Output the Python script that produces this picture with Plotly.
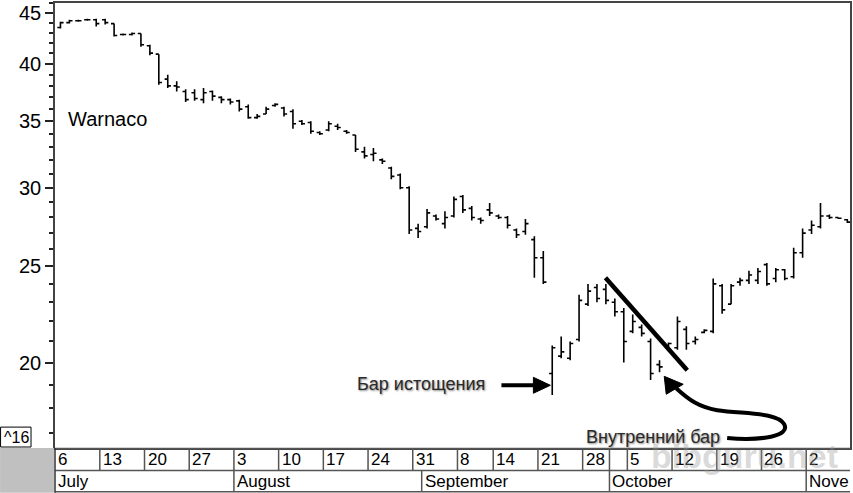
import plotly.graph_objects as go

# ---------------- data (Warnaco, daily OHLC, Jul 6 - Nov 6 1998) ----------------
open_ = [43.5, 44.0, 44.2, 44.3, 44.3, 44.3, 43.9, 42.8, 42.8, 42.9,
         41.7, 40.9, 38.6, 38.0, 37.5, 37.4, 36.8, 37.5, 37.0, 36.8,
         36.7, 36.2, 35.3, 35.6, 36.3, 36.1, 35.8, 35.0, 34.9, 34.1,
         34.3, 34.6, 34.2, 33.9, 32.6, 32.4, 32.0, 31.4, 30.9, 30.0,
         27.3, 27.4, 28.1, 27.6, 28.1, 29.4, 28.6, 27.9, 28.5, 28.1,
         28.0, 27.2, 27.1, 26.6, 25.5, 19.5, 20.3, 20.2, 21.1, 22.9,
         23.8, 23.7, 23.0, 22.5, 21.5, 21.7, 21.0, 19.9, 20.8, 20.7,
         21.6, 21.0, 21.45, 21.5, 23.9, 22.9, 24.1, 24.2, 24.2, 25.1,
         24.3, 24.8, 24.4, 25.8, 27.2, 27.4, 28.1, 28.0, 27.85]
high = [44.1, 44.3, 44.3, 44.4, 44.4, 44.4, 43.9, 42.9, 43.0, 42.9,
        41.8, 40.9, 39.0, 38.4, 37.7, 37.7, 37.8, 37.6, 37.1, 36.9,
        36.8, 36.4, 35.6, 36.2, 36.5, 36.2, 36.0, 35.1, 35.0, 34.2,
        35.0, 34.8, 34.3, 33.9, 33.0, 32.9, 32.1, 31.5, 31.0, 30.1,
        27.6, 28.55, 28.2, 28.4, 29.4, 29.5, 28.75, 28.0, 28.95, 28.2,
        28.1, 27.3, 27.9, 26.8, 25.9, 20.8, 21.25, 21.0, 23.4, 24.0,
        24.0, 24.0, 23.2, 22.7, 22.35, 21.85, 21.15, 20.1, 20.95, 22.25,
        21.75, 21.25, 21.6, 24.3, 24.0, 24.0, 24.35, 24.75, 24.9, 25.2,
        24.9, 24.85, 26.1, 27.3, 27.8, 28.95, 28.2, 28.0, 27.9]
low = [43.4, 43.9, 44.1, 44.2, 43.6, 43.8, 42.6, 42.7, 42.7, 41.6,
       40.8, 38.1, 37.8, 37.5, 36.6, 36.7, 36.5, 36.7, 36.5, 36.4,
       35.8, 35.2, 35.2, 35.6, 36.2, 35.4, 34.4, 34.7, 34.0, 33.9,
       34.2, 34.3, 34.0, 32.6, 32.1, 31.9, 31.7, 30.6, 29.9, 26.95,
       26.7, 27.3, 27.8, 27.3, 28.0, 28.3, 27.8, 27.6, 28.1, 27.9,
       27.3, 26.7, 26.9, 24.35, 24.0, 18.55, 20.2, 20.1, 21.0, 22.8,
       23.0, 22.9, 22.25, 20.0, 21.4, 21.25, 19.2, 19.55, 20.7, 20.6,
       20.6, 20.85, 21.4, 21.4, 22.4, 22.9, 23.9, 24.0, 24.0, 23.9,
       24.1, 24.2, 24.3, 25.5, 26.95, 27.3, 27.9, 27.9, 27.65]
close = [44.0, 44.2, 44.2, 44.3, 43.9, 44.0, 42.7, 42.8, 42.9, 41.8,
         41.0, 38.3, 38.0, 37.9, 36.8, 36.9, 37.4, 37.1, 36.8, 36.6,
         36.0, 35.3, 35.4, 36.0, 36.4, 35.6, 34.8, 34.8, 34.2, 34.0,
         34.8, 34.5, 34.1, 32.8, 32.3, 32.5, 31.9, 30.8, 30.0, 27.2,
         27.1, 28.3, 27.9, 28.0, 29.2, 28.5, 28.0, 27.8, 28.3, 28.0,
         27.5, 26.9, 27.6, 25.5, 24.1, 20.7, 20.5, 20.9, 23.1, 23.6,
         23.2, 23.1, 22.5, 21.0, 22.0, 21.4, 19.5, 19.8, 20.9, 22.0,
         20.9, 21.1, 21.55, 24.0, 22.6, 23.9, 24.2, 24.5, 24.7, 24.0,
         24.8, 24.3, 25.8, 27.0, 27.5, 28.1, 28.0, 27.95, 27.7]
day_idx = list(range(len(close)))           # trading-day index

week_start_idx = [0, 5, 10, 15, 20, 25, 30, 35, 40, 45, 49, 54, 59, 64, 69, 74, 79, 84]
week_labels = ["6", "13", "20", "27", "3", "10", "17", "24", "31", "8", "14", "21",
               "28", "5", "12", "19", "26", "2"]
month_start_idx = [0, 20, 41, 62, 84]
month_labels = ["July", "August", "September", "October", "Nove"]
y_major = [20, 25, 30, 35, 40, 45]
y_minor = [v for v in range(17, 47) if v not in y_major]
trend_x = [60.95, 70.1]
trend_y = [24.35, 19.64]

# ---------------- geometry helpers (pixel -> paper) ----------------
W, H = 853, 493
ML, MR, MT, MB = 55, 2, 1, 45
PW, PH = W - ML - MR, H - MT - MB
FONT = "Liberation Sans, Arial, Helvetica, sans-serif"


def px(x):
    return (x - ML) / PW


def py(y):
    return (H - MB - y) / PH


def path_from(points, cmd_curve=True, close=False):
    s = "M {} {}".format(px(points[0][0]), py(points[0][1]))
    rest = points[1:]
    if cmd_curve:
        for k in range(0, len(rest), 3):
            a, b, c = rest[k:k + 3]
            s += " C {} {}, {} {}, {} {}".format(px(a[0]), py(a[1]), px(b[0]), py(b[1]),
                                                   px(c[0]), py(c[1]))
    else:
        for p in rest:
            s += " L {} {}".format(px(p[0]), py(p[1]))
    if close:
        s += " Z"
    return s


fig = go.Figure()
fig.add_trace(go.Ohlc(x=day_idx, open=open_, high=high, low=low, close=close,
                      increasing=dict(line=dict(color="black", width=1.6)),
                      decreasing=dict(line=dict(color="black", width=1.6)),
                      tickwidth=0.35, showlegend=False))
fig.add_trace(go.Scatter(x=trend_x, y=trend_y, mode="lines",
                         line=dict(color="black", width=4.5), showlegend=False,
                         hoverinfo="skip"))

shapes = []
LC = "#555555"
# gray corner box
shapes.append(dict(type="rect", xref="paper", yref="paper", x0=px(0), x1=px(54),
                   y0=py(493), y1=py(448), fillcolor="#c0c0c0", line=dict(width=0)))
# row borders
for yy in [448.5, 470.5, 492]:
    shapes.append(dict(type="line", xref="paper", yref="paper", x0=0, x1=1,
                       y0=py(yy), y1=py(yy), line=dict(color=LC, width=1.5)))
# left axis extension
shapes.append(dict(type="line", xref="paper", yref="paper", x0=0, x1=0,
                   y0=py(448), y1=py(493), line=dict(color="#333333", width=1.5)))
# week separators (row 1)
for i in week_start_idx[1:] + [62]:
    shapes.append(dict(type="line", xref="x", yref="paper", x0=i - 0.6, x1=i - 0.6,
                       y0=py(448), y1=py(470.5), line=dict(color=LC, width=1.5)))
# month separators (row 2)
for i in month_start_idx[1:]:
    shapes.append(dict(type="line", xref="x", yref="paper", x0=i - 0.6, x1=i - 0.6,
                       y0=py(470.5), y1=py(492), line=dict(color=LC, width=1.5)))
# ^16 box
shapes.append(dict(type="rect", xref="paper", yref="paper", x0=px(0.5), x1=px(31),
                   y0=py(447), y1=py(427), fillcolor="white",
                   line=dict(color="black", width=1)))
# straight arrow (exhaustion bar)
shapes.append(dict(type="line", xref="paper", yref="paper", x0=px(502), x1=px(537),
                   y0=py(385), y1=py(385), line=dict(color="black", width=4)))
shapes.append(dict(type="path", xref="paper", yref="paper",
                   path=path_from([(551, 385), (534, 377), (534, 393)], cmd_curve=False, close=True),
                   fillcolor="black", line=dict(color="black", width=1)))
# curved arrow (inside bar)
shapes.append(dict(type="path", xref="paper", yref="paper",
                   path=path_from([(728, 438), (762, 441), (792, 436), (785, 424),
                                   (778, 412), (745, 414), (718, 410),
                                   (700, 407), (690, 400), (677, 388)]),
                   line=dict(color="black", width=4)))
shapes.append(dict(type="path", xref="paper", yref="paper",
                   path=path_from([(665, 376), (667, 394), (684, 384)], cmd_curve=False, close=True),
                   fillcolor="black", line=dict(color="black", width=1)))

annotations = []
for i, t in zip(week_start_idx, week_labels):
    annotations.append(dict(xref="x", yref="paper", x=max(i - 0.6, -0.58), y=py(460),
                            text=t, showarrow=False, xanchor="left", yanchor="middle",
                            xshift=1, font=dict(family=FONT, size=17, color="black")))
for i, t in zip(month_start_idx, month_labels):
    annotations.append(dict(xref="x", yref="paper", x=max(i - 0.6, -0.58), y=py(482),
                            text=t, showarrow=False, xanchor="left", yanchor="middle",
                            xshift=1, font=dict(family=FONT, size=17, color="black")))
annotations.append(dict(xref="paper", yref="paper", x=px(66), y=py(118), text="Warnaco",
                        showarrow=False, xanchor="left", yanchor="middle",
                        font=dict(family=FONT, size=20, color="black")))
annotations.append(dict(xref="paper", yref="paper", x=px(16), y=py(437.5), text="^16",
                        showarrow=False, xanchor="center", yanchor="middle",
                        font=dict(family=FONT, size=16, color="black")))
txt_font = dict(family=FONT, size=18, color="#2a2a2a", shadow="1px 1px 2px #888888")
annotations.append(dict(xref="paper", yref="paper", x=px(421), y=py(384),
                        text="Бар истощения", showarrow=False, xanchor="center",
                        yanchor="middle", font=txt_font))
annotations.append(dict(xref="paper", yref="paper", x=px(654), y=py(437),
                        text="Внутренний бар", showarrow=False, xanchor="center",
                        yanchor="middle", font=txt_font))
annotations.append(dict(xref="paper", yref="paper", x=px(745), y=py(456),
                        text="<b>bibguru.net</b>", showarrow=False, xanchor="center",
                        yanchor="middle",
                        font=dict(family=FONT, size=34, color="rgba(150,150,150,0.35)")))

fig.update_layout(
    width=W, height=H,
    margin=dict(l=ML, r=MR, t=MT, b=MB),
    paper_bgcolor="white", plot_bgcolor="white",
    showlegend=False,
    shapes=shapes, annotations=annotations,
    xaxis=dict(range=[-0.61, 88.3], showticklabels=False, ticks="", showgrid=False,
               zeroline=False, showline=True, linecolor="#444444", linewidth=1.5,
               mirror=True, rangeslider=dict(visible=False)),
    yaxis=dict(type="log", range=[1.2149, 1.66324], tickmode="array",
               tickvals=y_major, ticktext=[str(v) for v in y_major],
               ticks="outside", ticklen=8, tickwidth=1.5, tickcolor="#222222",
               showgrid=False, zeroline=False, showline=True, linecolor="#444444",
               linewidth=1.5, mirror=True,
               tickfont=dict(family=FONT, size=20, color="black"),
               minor=dict(tickmode="array", tickvals=y_minor, ticks="outside",
                          ticklen=4, tickwidth=1.5, tickcolor="#222222",
                          showgrid=False)),
)

fig.write_html("out.html", config={"displayModeBar": False},
               post_script="document.body.style.margin='0';")
